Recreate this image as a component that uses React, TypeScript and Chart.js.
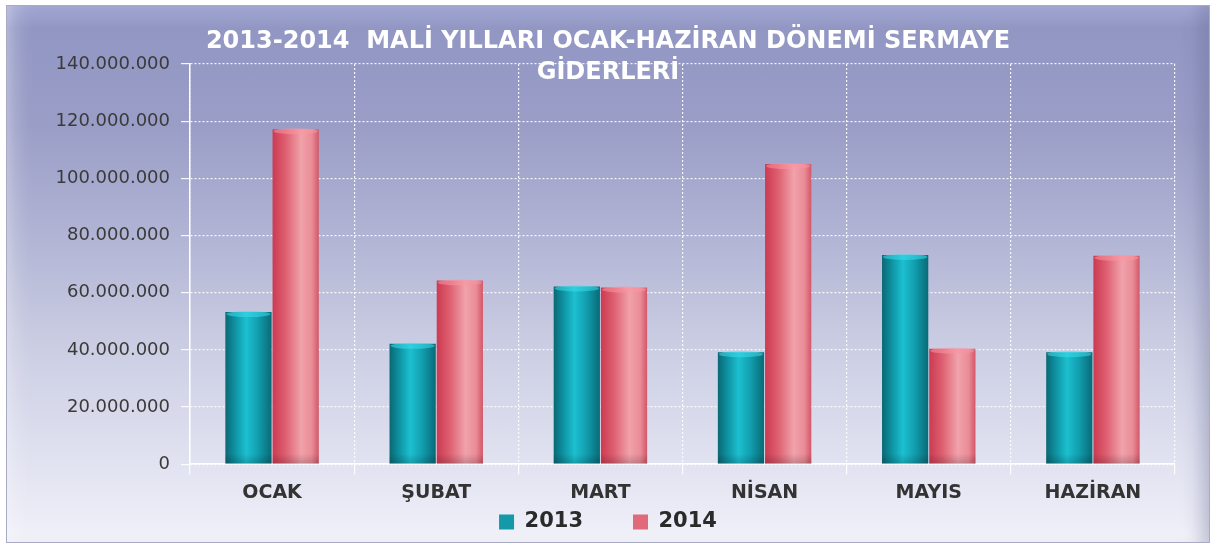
import React, { useEffect, useRef } from "react";
import { Chart, registerables } from "chart.js";

Chart.register(...registerables);

const categories = ["OCAK", "ŞUBAT", "MART", "NİSAN", "MAYIS", "HAZİRAN"];
const seriesNames = ["2013", "2014"];
const values2013 = [53200000, 42100000, 62200000, 39200000, 73200000, 39200000];
const values2014 = [117200000, 64300000, 61800000, 105000000, 40400000, 72900000];
const yTickValues = [0, 20000000, 40000000, 60000000, 80000000, 100000000, 120000000, 140000000];
const titleLines = ["2013-2014  MALİ YILLARI OCAK-HAZİRAN DÖNEMİ SERMAYE", "GİDERLERİ"];

const FONT = "'DejaVu Sans', Verdana, sans-serif";
const LEGEND_SIZE = 21;
const LEGEND_PAD = 50;
const LEGEND_CENTER_Y = 522;

const solidColors = ["#1399a8", "#e06a7a"];
const gradientStops: [number, string][][] = [
  [
    [0, "#0a6874"],
    [0.22, "#0f94a4"],
    [0.45, "#1cc0d0"],
    [0.7, "#129fb0"],
    [1, "#096a76"],
  ],
  [
    [0, "#cc3a52"],
    [0.28, "#de5f70"],
    [0.62, "#f0a2ab"],
    [0.85, "#ea8c97"],
    [1, "#d35768"],
  ],
];

const fmt = (v: number) => String(Math.round(v)).replace(/\B(?=(\d{3})+(?!\d))/g, ".");

const barGradientPlugin = {
  id: "barGradient",
  afterLayout(chart: any) {
    const l = chart.legend;
    if (l) {
      l.top = LEGEND_CENTER_Y - LEGEND_PAD - LEGEND_SIZE / 2;
      l.bottom = chart.height;
    }
  },
  beforeDatasetsDraw(chart: any) {
    const ctx = chart.ctx;
    chart.data.datasets.forEach((_: any, di: number) => {
      const meta = chart.getDatasetMeta(di);
      meta.data.forEach((bar: any) => {
        const w = bar.width;
        const g = ctx.createLinearGradient(bar.x - w / 2, 0, bar.x + w / 2, 0);
        gradientStops[di].forEach(([o, c]) => g.addColorStop(o, c));
        bar.options.backgroundColor = g;
      });
    });
  },
  afterDatasetsDraw(chart: any) {
    const ctx = chart.ctx;
    chart.data.datasets.forEach((_: any, di: number) => {
      const meta = chart.getDatasetMeta(di);
      meta.data.forEach((bar: any) => {
        const w = bar.width;
        ctx.save();
        ctx.beginPath();
        ctx.ellipse(bar.x, bar.y + 2, w / 2 - 1, 3, 0, 0, Math.PI * 2);
        ctx.fillStyle = di === 0 ? "rgba(60,220,235,0.55)" : "rgba(250,150,160,0.55)";
        ctx.fill();
        ctx.restore();
        ctx.save();
        const g = ctx.createLinearGradient(0, bar.base - 10, 0, bar.base);
        g.addColorStop(0, "rgba(0,0,0,0)");
        g.addColorStop(1, "rgba(0,0,0,0.18)");
        ctx.fillStyle = g;
        ctx.fillRect(bar.x - w / 2, bar.base - 10, w, 10);
        ctx.restore();
      });
    });
  },
};

export default function App() {
  const ref = useRef<HTMLCanvasElement | null>(null);

  useEffect(() => {
    if (!ref.current) return;
    const chart = new Chart(ref.current, {
      type: "bar",
      data: {
        labels: categories,
        datasets: [
          {
            label: seriesNames[0],
            data: values2013,
            backgroundColor: () => solidColors[0],
            borderWidth: 0,
            categoryPercentage: 0.575,
            barPercentage: 0.98,
          },
          {
            label: seriesNames[1],
            data: values2014,
            backgroundColor: () => solidColors[1],
            borderWidth: 0,
            categoryPercentage: 0.575,
            barPercentage: 0.98,
          },
        ],
      },
      options: {
        responsive: false,
        animation: false,
        devicePixelRatio: 1,
        layout: { padding: { left: 41, right: 43, top: 3, bottom: 4 } },
        plugins: {
          title: {
            display: true,
            text: titleLines,
            color: "#ffffff",
            font: { family: FONT, size: 24, weight: "bold", lineHeight: 1.3 },
            padding: { top: 23, bottom: -24.4 },
          },
          legend: {
            display: true,
            position: "bottom",
            maxHeight: 31,
            labels: {
              color: "#2a2a2a",
              font: { family: FONT, size: LEGEND_SIZE, weight: "bold" },
              boxWidth: 15,
              boxHeight: 15,
              padding: LEGEND_PAD,
            },
          },
          tooltip: { enabled: false },
        },
        scales: {
          x: {
            grid: {
              color: "rgba(255,255,255,0.9)",
              lineWidth: 1.2,
              tickLength: 10,
              offset: true,
            },
            border: { display: true, color: "#ffffff", width: 1.5, dash: [2, 2] },
            ticks: {
              color: "#333333",
              font: { family: FONT, size: 19, weight: "bold" },
              padding: 7,
            },
          },
          y: {
            min: 0,
            max: 140000000,
            grid: {
              color: "rgba(255,255,255,0.9)",
              lineWidth: 1.2,
              tickLength: 9,
            },
            border: { display: true, color: "#ffffff", width: 1.5, dash: [2, 2] },
            ticks: {
              color: "#3a3a3a",
              font: { family: FONT, size: 18 },
              padding: 11,
              callback: (v: any) => fmt(Number(v)),
            },
            afterBuildTicks: (s: any) => {
              s.ticks = yTickValues.map((v) => ({ value: v }));
            },
            afterFit: (s: any) => {
              s.width = 149;
            },
          },
        },
      },
      plugins: [barGradientPlugin],
    } as any);
    return () => chart.destroy();
  }, []);

  return (
    <div
      style={{
        position: "fixed",
        left: 0,
        top: 0,
        width: 1218,
        height: 546,
        background: "#ffffff",
        overflow: "hidden",
      }}
    >
      <div
        style={{
          position: "absolute",
          left: 6,
          top: 5,
          width: 1202,
          height: 536,
          border: "1px solid #a9abc4",
          background:
            "linear-gradient(180deg, #a3a8d4 0px, #9196c3 22px, #9a9ec7 120px, #b1b4d4 230px, #c9cbe2 330px, #dcdeee 430px, #e9eaf5 500px, #f0f1f8 536px)",
          boxShadow:
            "inset 18px 0 22px -12px rgba(255,255,255,0.35), inset -16px 0 20px -10px rgba(70,72,120,0.35), inset 0 -14px 18px -10px rgba(255,255,255,0.6)",
        }}
      />
      <canvas
        ref={ref}
        width={1218}
        height={546}
        style={{ position: "absolute", left: 0, top: 0, width: 1218, height: 546 }}
      />
    </div>
  );
}
